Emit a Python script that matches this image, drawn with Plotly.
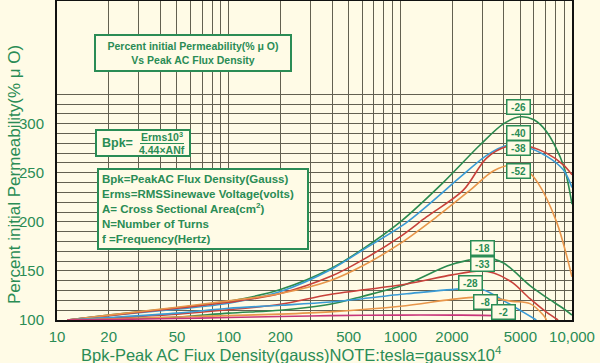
import plotly.graph_objects as go

# ---------------- data ----------------
x_u26 = [11.5, 20, 50, 100, 200, 400, 600, 1000, 1800, 2900, 4000, 5000, 6000, 7100, 8900, 10000]
y_u26 = [100, 105, 112.5, 119, 131, 153, 172, 200, 241, 278, 300, 307, 304, 292, 258, 218]

x_u40 = [11.5, 20, 50, 100, 200, 400, 600, 1100, 2320, 3200, 4200, 5200, 7100, 8900, 10000]
y_u40 = [100, 104.5, 111, 117, 129, 152, 171, 200, 248, 268, 278, 277, 267, 253, 235]

x_u38 = [11.5, 20, 50, 100, 200, 400, 600, 1000, 1420, 2320, 3180, 4200, 5200, 7100, 8900, 10000]
y_u38 = [100, 104.5, 112, 118, 127, 145, 161, 185, 205, 232, 265, 277, 278, 270, 258, 248]

x_u52 = [11.5, 20, 50, 100, 200, 389, 600, 1000, 1625, 2540, 3500, 4640, 5500, 6320, 8130, 10000]
y_u52 = [100, 105, 113, 119.5, 127, 140, 155, 178, 205, 232, 252, 258, 252, 240, 200, 144]

x_l18 = [11.5, 20, 50, 100, 200, 389, 600, 1090, 1870, 2500, 3185, 4000, 5690, 7100, 8900, 10000]
y_l18 = [100, 101, 103, 107, 110, 116, 124, 136.7, 155, 161, 163.3, 158, 135, 123, 111.7, 105]

x_l33 = [11.5, 20, 50, 100, 200, 389, 1090, 2000, 2910, 3500, 4500, 5690, 7100, 8300]
y_l33 = [100, 102, 106, 110.5, 116, 126, 136.7, 146, 150, 148, 138, 121.7, 108, 100]

x_l28 = [11.5, 20, 50, 100, 200, 389, 1090, 2320, 3000, 4160, 5200, 6200]
y_l28 = [100, 102.5, 107, 112, 115, 118.3, 126.7, 131.7, 131, 118, 108, 100]

x_l8 = [11.5, 20, 50, 100, 200, 389, 1000, 2000, 2780, 3500, 4500, 5690, 6800, 7100]
y_l8 = [100, 101, 103, 104.5, 106, 108.3, 114, 121, 123.3, 122, 119, 116.7, 105, 100]

x_l2 = [11.5, 20, 50, 100, 200, 389, 1000, 2000, 3500, 4000, 4400]
y_l2 = [100, 100.5, 101.5, 102.5, 103.5, 104.5, 105, 105, 104.5, 103.5, 100]

curve_names = ["-26", "-40", "-38", "-52", "-18", "-33", "-28", "-8", "-2"]

x_decades = [10, 100, 1000]
x_mult = [1, 2, 3, 4, 5, 6, 7, 8, 9]
x_labels = {10: "10", 20: "20", 50: "50", 100: "100", 200: "200", 500: "500",
            1000: "1000", 2000: "2000", 5000: "5000", 10000: "10,000"}
y_grid = list(range(100, 331, 10))
y_labels = {100: "100", 150: "150", 200: "200", 250: "250", 300: "300"}

# ---------------- styling ----------------
GREEN_T = "#2a8c55"
BG = "#fffbe6"
GRID = "#636050"
C_GREEN = "#2b8a4f"
C_BLUE = "#3a9bd5"
C_RED = "#c8413a"
C_ORANGE = "#e8964a"
C_PINK = "#c8357a"

W, H = 600, 363
L, R, T, B = 57, 28, 1, 43
PW, PH = W - L - R, H - T - B


def px(xp):
    return (xp - L) / PW


def py(yp):
    return 1 - (yp - T) / PH


series = [
    (x_u26, y_u26, C_GREEN), (x_u40, y_u40, C_BLUE), (x_u38, y_u38, C_RED),
    (x_u52, y_u52, C_ORANGE), (x_l18, y_l18, C_GREEN), (x_l33, y_l33, C_RED),
    (x_l28, y_l28, C_BLUE), (x_l8, y_l8, C_ORANGE), (x_l2, y_l2, C_PINK),
]

fig = go.Figure()
for (xs, ys, c), n in zip(series, curve_names):
    fig.add_trace(go.Scatter(x=xs, y=ys, mode="lines", name=n,
                             line=dict(color=c, width=1.6, shape="spline", smoothing=0.9),
                             showlegend=False, hoverinfo="skip", cliponaxis=True))

xt = [d * m for d in x_decades for m in x_mult] + [10000]
xtt = [x_labels.get(v, "") for v in xt]
ytt = [y_labels.get(v, "") for v in y_grid]

fig.update_layout(
    width=W, height=H,
    margin=dict(l=L, r=R, t=T, b=B),
    paper_bgcolor=BG, plot_bgcolor=BG,
    font=dict(family="Arial, Liberation Sans, sans-serif", color=GREEN_T),
    xaxis=dict(type="log", range=[1, 4], tickvals=xt, ticktext=xtt,
               showgrid=True, gridcolor=GRID, gridwidth=1, automargin=False,
               showline=True, linecolor="#111", linewidth=2, mirror=True,
               ticks="", ticklabelstandoff=2, zeroline=False,
               tickfont=dict(size=15, color=GREEN_T)),
    yaxis=dict(range=[100, 425], tickvals=y_grid, ticktext=ytt,
               showgrid=True, gridcolor=GRID, gridwidth=1, automargin=False,
               showline=True, linecolor="#111", linewidth=2, mirror=True,
               ticks="", ticklabelstandoff=8, zeroline=False,
               tickfont=dict(size=15, color=GREEN_T)),
)

ann = []


def A(**kw):
    kw.setdefault("xref", "paper")
    kw.setdefault("yref", "paper")
    kw.setdefault("showarrow", False)
    kw.setdefault("xanchor", "center")
    kw.setdefault("yanchor", "middle")
    ann.append(kw)


# axis titles
A(text="Bpk-Peak AC Fiux Density(gauss)NOTE:tesla=gaussx10<sup>4</sup>",
  x=px(79), y=py(354), xanchor="left", font=dict(size=16.5, color=GREEN_T))
A(text="Percent initial Permeability(% μ O)", textangle=-90,
  x=px(14), y=py(175), font=dict(size=17, color=GREEN_T))

# title box
A(text="<b>Percent initial Permeability(% μ O)<br>Vs Peak AC Flux Density</b>",
  x=px(192.5), y=py(53), font=dict(size=10.5, color=GREEN_T), align="center",
  bordercolor=GREEN_T, borderwidth=2, borderpad=4, bgcolor=BG, width=186)

# definitions box
A(text="<b>Bpk=PeakAC Flux Density(Gauss)<br>Erms=RMSSinewave Voltage(volts)<br>"
       "A= Cross Sectional Area(cm<sup>2</sup>)<br>N=Number of Turns<br>f =Frequency(Hertz)</b>",
  x=px(97), y=py(168), xanchor="left", yanchor="top", align="left",
  font=dict(size=11.5, color=GREEN_T),
  bordercolor=GREEN_T, borderwidth=2, borderpad=3, bgcolor=BG, width=202)

# formula box contents
A(text="<b>Bpk=</b>", x=px(100), y=py(143), xanchor="left", font=dict(size=12.5, color=GREEN_T))
A(text="<b>Erms10<sup>3</sup></b>", x=px(162), y=py(136), font=dict(size=10.5, color=GREEN_T))
A(text="<b>4.44×ANf</b>", x=px(162), y=py(150), font=dict(size=10.5, color=GREEN_T))

shapes = [
    dict(type="rect", xref="paper", yref="paper", x0=px(96), x1=px(190), y0=py(130), y1=py(156),
         line=dict(color=GREEN_T, width=2), fillcolor=BG, layer="above"),
    dict(type="line", xref="paper", yref="paper", x0=px(140), x1=px(184), y0=py(143.5), y1=py(143.5),
         line=dict(color=GREEN_T, width=1.2), layer="above"),
]

# curve labels
label_pos = {"-26": (518, 107), "-40": (518, 133), "-38": (518, 148), "-52": (518, 171),
             "-18": (482, 248), "-33": (482, 264), "-28": (470, 283), "-8": (485, 302),
             "-2": (503, 312)}
for n in curve_names:
    xp, yp = label_pos[n]
    A(text="<b>%s</b>" % n, x=px(xp), y=py(yp), font=dict(size=10, color=GREEN_T),
      bordercolor=GREEN_T, borderwidth=1.5, borderpad=1, bgcolor=BG, width=20)

fig.update_layout(annotations=ann, shapes=shapes)
fig.write_html("out.html",
               config={"displayModeBar": False},
               post_script="document.body.style.margin='0px';"
                           "document.body.style.background='#fffbe6';"
                           "document.body.style.overflow='hidden';")
